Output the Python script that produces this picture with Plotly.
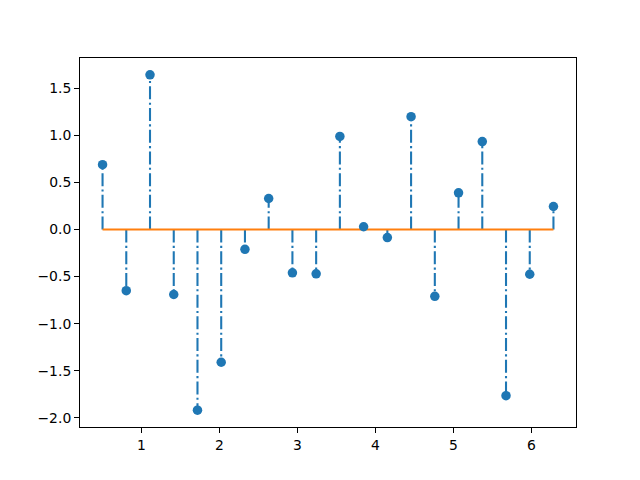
import numpy as np
import plotly.graph_objects as go

x_vals = [0.5, 0.8044, 1.1088, 1.4132, 1.7176, 2.0220, 2.3264, 2.6308, 2.9352, 3.2396,
          3.5440, 3.8484, 4.1528, 4.4572, 4.7616, 5.0660, 5.3704, 5.6748, 5.9792, 6.2832]
y_vals = [0.69, -0.65, 1.645, -0.69, -1.92, -1.41, -0.21, 0.33, -0.46, -0.47,
          0.99, 0.03, -0.085, 1.20, -0.71, 0.39, 0.935, -1.765, -0.475, 0.245]

blue = "#1f77b4"
orange = "#ff7f0e"

sx, sy = [], []
for xv, yv in zip(x_vals, y_vals):
    sx += [xv, xv, None]
    sy += [0, yv, None]

fig = go.Figure()
fig.add_trace(go.Scatter(x=sx, y=sy, mode="lines",
                         line=dict(color=blue, width=2.08, dash="13px,3.3px,2.1px,3.3px"),
                         hoverinfo="skip", showlegend=False))
fig.add_trace(go.Scatter(x=[min(x_vals), max(x_vals)], y=[0, 0], mode="lines",
                         line=dict(color=orange, width=2.08), showlegend=False))
fig.add_trace(go.Scatter(x=x_vals, y=y_vals, mode="markers",
                         marker=dict(color=blue, size=9.5, line=dict(width=0)),
                         showlegend=False))

span_x = max(x_vals) - min(x_vals)
span_y = max(y_vals) - min(y_vals)
axis_common = dict(showgrid=False, zeroline=False, showline=True, linecolor="black",
                   linewidth=1, mirror=True, ticks="outside", ticklen=5, tickwidth=1,
                   tickcolor="black", tickfont=dict(family="DejaVu Sans", size=13.9, color="black"))

fig.update_layout(
    width=640, height=480,
    margin=dict(l=80, r=64, t=58, b=53),
    paper_bgcolor="white", plot_bgcolor="white",
    xaxis=dict(range=[min(x_vals) - 0.05 * span_x, max(x_vals) + 0.05 * span_x],
               tickvals=[1, 2, 3, 4, 5, 6], ticktext=["1", "2", "3", "4", "5", "6"], **axis_common),
    yaxis=dict(range=[min(y_vals) - 0.05 * span_y, max(y_vals) + 0.05 * span_y],
               tickvals=[-2, -1.5, -1, -0.5, 0, 0.5, 1, 1.5],
               ticktext=["\u22122.0", "\u22121.5", "\u22121.0", "\u22120.5", "0.0", "0.5", "1.0", "1.5"],
               **axis_common),
)

fig.write_html("out.html")
